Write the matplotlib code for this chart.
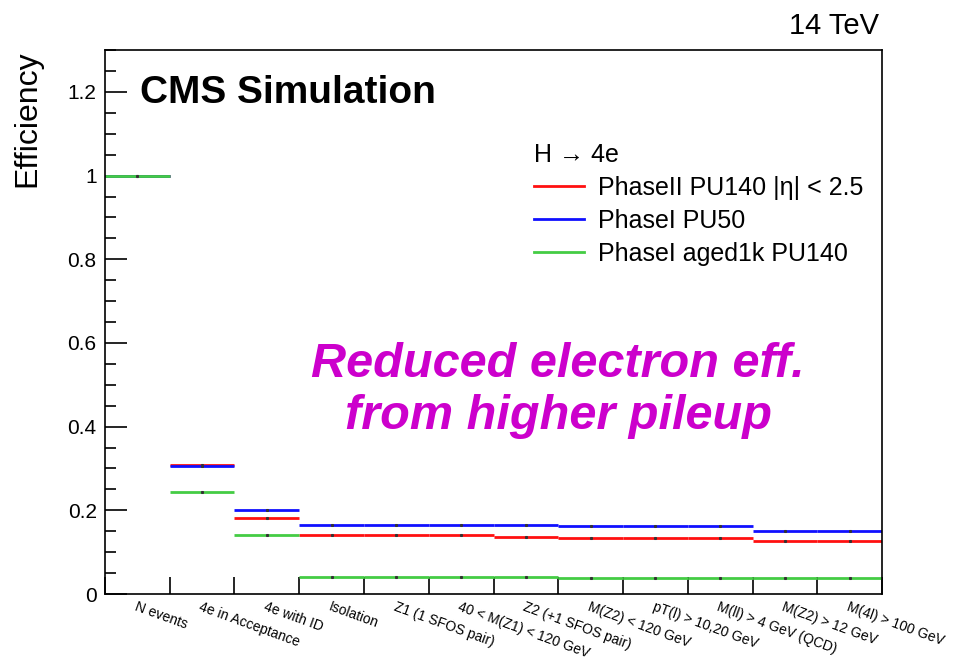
import matplotlib
matplotlib.use("Agg")
import matplotlib.pyplot as plt
import numpy as np
from matplotlib.ticker import MultipleLocator, FixedLocator
from matplotlib.lines import Line2D

plt.rcParams['font.family'] = ['Liberation Sans', 'DejaVu Sans']

categories = ["N events", "4e in Acceptance", "4e with ID", "Isolation",
              "Z1 (1 SFOS pair)", "40 < M(Z1) < 120 GeV", "Z2 (+1 SFOS pair)",
              "M(Z2) < 120 GeV", "pT(l) > 10,20 GeV", "M(ll) > 4 GeV (QCD)",
              "M(Z2) > 12 GeV", "M(4l) > 100 GeV"]

phase2_pu140 = [1.0, 0.308, 0.181, 0.140, 0.140, 0.140, 0.137, 0.135, 0.135, 0.133, 0.127, 0.127]
phase1_pu50 = [1.0, 0.305, 0.201, 0.166, 0.166, 0.166, 0.165, 0.163, 0.163, 0.162, 0.151, 0.151]
phase1_aged_pu140 = [1.0, 0.244, 0.141, 0.041, 0.041, 0.041, 0.040, 0.039, 0.039, 0.039, 0.0375, 0.0375]

series_labels = ["PhaseII PU140 |η| < 2.5", "PhaseI PU50", "PhaseI aged1k PU140"]
series_colors = ["#ff1010", "#1010ff", "#44cc44"]

fig = plt.figure(figsize=(9.64, 6.60), dpi=100)
ax = fig.add_axes([0.1089, 0.1, 0.915 - 0.1089, 0.924 - 0.1])

n = len(categories)
edges = np.arange(n + 1)
centers = edges[:-1] + 0.5

for vals, c in zip([phase2_pu140, phase1_pu50, phase1_aged_pu140], series_colors):
    ax.hlines(vals, edges[:-1], edges[1:], colors=c, lw=2.0)
    ax.plot(centers, vals, ls='none', marker='s', ms=1.2, color='#333333')

ax.set_xlim(0, n)
ax.set_ylim(0, 1.3)

ax.yaxis.set_minor_locator(MultipleLocator(0.05))
ax.tick_params(axis='y', which='major', direction='in', length=16, width=1.2, labelsize=15, pad=6)
ax.tick_params(axis='y', which='minor', direction='in', length=8, width=1.2)
ax.set_yticks(np.arange(0, 1.21, 0.2))
ax.set_yticklabels(["0", "0.2", "0.4", "0.6", "0.8", "1", "1.2"])

ax.xaxis.set_major_locator(FixedLocator(edges))
ax.set_xticklabels([])
ax.tick_params(axis='x', which='major', direction='in', length=12, width=1.2)
ax.set_xticks(centers, minor=True)
ax.set_xticklabels(categories, minor=True, rotation=-20, ha='left', va='top',
                   rotation_mode='anchor', fontsize=10)
ax.tick_params(axis='x', which='minor', length=0, pad=4)

for s in ax.spines.values():
    s.set_linewidth(1.2)

ax.set_ylabel("Efficiency", fontsize=23, loc='top', labelpad=18)

ax.text(0.045, 0.922, "CMS Simulation", transform=ax.transAxes, fontsize=28,
        fontweight='bold', va='center', ha='left')
fig.text(0.912, 0.961, "14 TeV", fontsize=21, ha='right', va='center')

ax.text(0.583, 0.375, "Reduced electron eff.\nfrom higher pileup", transform=ax.transAxes,
        fontsize=35, fontweight='bold', fontstyle='italic', color='#cc00cc',
        ha='center', va='center', linespacing=1.2)

handles = [Line2D([], [], color=c, lw=2.0) for c in series_colors]
leg = ax.legend(handles, series_labels, title="H → 4e", loc='upper left',
                bbox_to_anchor=(0.536, 0.852), frameon=False, fontsize=18,
                title_fontsize=18, alignment='left', handlelength=2.0,
                handletextpad=0.55, labelspacing=0.36, borderpad=0)

fig.savefig("out.png", dpi=100)
